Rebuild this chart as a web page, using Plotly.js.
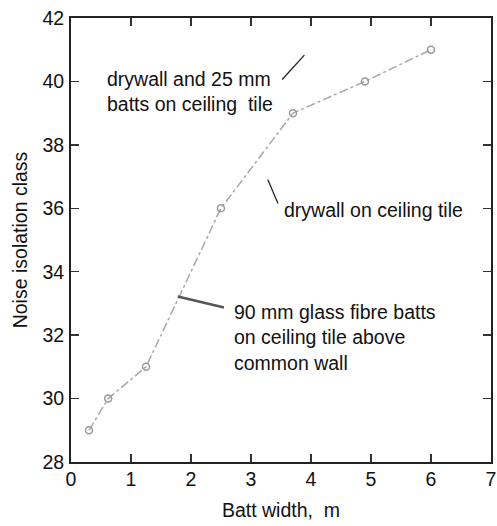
<!DOCTYPE html>
<html>
<head>
<meta charset="utf-8">
<script src="https://cdn.plot.ly/plotly-3.0.1.min.js"></script>
<style>html,body{margin:0;padding:0;background:#fff;}#chart{width:497px;height:526px;}</style>
</head>
<body>
<div id="chart"></div>
<script>
// Data
var battWidth = [0.3, 0.62, 1.25, 2.5, 3.7, 4.9, 6.0];
var nic = [29.0, 30.0, 31.0, 36.0, 39.0, 40.0, 41.0];

var xTicks = [0, 1, 2, 3, 4, 5, 6, 7];
var yTicks = [28, 30, 32, 34, 36, 38, 40, 42];

var labelTexts = [
  "drywall and 25 mm<br>batts on ceiling  tile",
  "drywall on ceiling tile",
  "90 mm glass fibre batts<br>on ceiling tile above<br>common wall"
];
var labelX = [0.57, 3.52, 2.69];
var labelY = [39.67, 35.96, 31.92];

// leader lines [x0, y0, x1, y1]
var leaders = [
  [3.89, 40.83, 3.52, 40.06],
  [3.28, 36.91, 3.45, 36.15],
  [1.78, 33.22, 2.55, 32.87]
];
var leaderColor = ["#222", "#222", "#555"];
var leaderWidth = [1.3, 1.3, 2.5];

var FONT = "Liberation Sans, Arial, Helvetica, sans-serif";
var TXT = "#111";

var trace = {
  x: battWidth, y: nic, type: "scatter", mode: "lines+markers",
  line: {color: "#a8a8a8", width: 1.5, dash: "dashdot"},
  marker: {symbol: "circle-open", size: 7, color: "#999", line: {width: 1.5, color: "#999"}},
  hoverinfo: "skip", cliponaxis: false
};

var annotations = labelTexts.map(function(t, i) {
  return {x: labelX[i], y: labelY[i], xref: "x", yref: "y", text: t, showarrow: false,
          xanchor: "left", yanchor: "middle", align: "left",
          font: {family: FONT, size: 19.5, color: TXT}};
});

var shapes = leaders.map(function(l, i) {
  return {type: "line", xref: "x", yref: "y", x0: l[0], y0: l[1], x1: l[2], y1: l[3],
          line: {color: leaderColor[i], width: leaderWidth[i]}};
});

var axisCommon = {
  showgrid: false, zeroline: false, showline: true, mirror: "ticks",
  linecolor: "#222", linewidth: 2, ticks: "inside", ticklen: 8, tickwidth: 1.5, tickcolor: "#333",
  tickfont: {family: FONT, size: 19.5, color: TXT}
};

var layout = {
  width: 497, height: 526,
  margin: {l: 71, r: 6, t: 18, b: 64},
  paper_bgcolor: "#fff", plot_bgcolor: "#fff",
  showlegend: false,
  xaxis: Object.assign({}, axisCommon, {
    range: [0, 7.001], tickvals: xTicks, ticktext: xTicks.map(String),
    ticklabelstandoff: -1, ticklabeloverflow: "allow",
    title: {text: "Batt width,  m", font: {family: FONT, size: 19.5, color: TXT}, standoff: 14}
  }),
  yaxis: Object.assign({}, axisCommon, {
    range: [28, 42], tickvals: yTicks, ticktext: yTicks.map(String),
    ticklabelstandoff: 1,
    title: {text: "Noise isolation class", font: {family: FONT, size: 19.5, color: TXT}, standoff: 10}
  }),
  annotations: annotations,
  shapes: shapes
};

Plotly.newPlot("chart", [trace], layout, {staticPlot: true, displayModeBar: false});
</script>
</body>
</html>
